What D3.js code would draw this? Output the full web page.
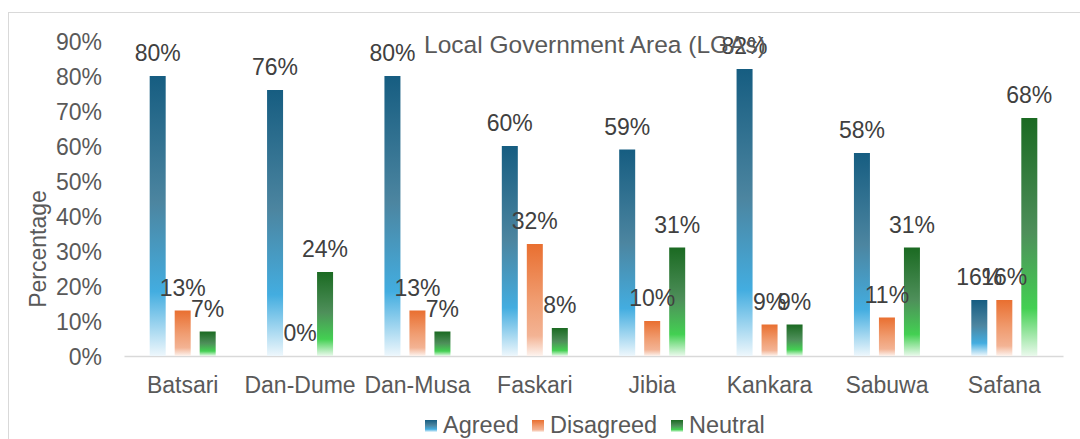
<!DOCTYPE html>
<html><head><meta charset="utf-8">
<script src="https://cdn.jsdelivr.net/npm/d3@7"></script>
<style>body{margin:0;background:#fff;}svg{display:block;font-family:"Liberation Sans",Arial,sans-serif;}</style>
</head><body>
<svg id="c" width="1080" height="439"></svg>
<script>
const categories = ["Batsari","Dan-Dume","Dan-Musa","Faskari","Jibia","Kankara","Sabuwa","Safana"];
const seriesNames = ["Agreed","Disagreed","Neutral"];
const agreed = [0.80,0.76,0.80,0.60,0.59,0.82,0.58,0.16];
const disagreed = [0.13,0.00,0.13,0.32,0.10,0.09,0.11,0.16];
const neutral = [0.07,0.24,0.07,0.08,0.31,0.09,0.31,0.68];
const yTicks = [0,0.1,0.2,0.3,0.4,0.5,0.6,0.7,0.8,0.9];
const titleText = "Local Government Area (LGAs)";
const yTitle = "Percentage";

const values = [agreed, disagreed, neutral];
const gradStops = [
  [["0%","#165d81"],["45%","#4c85a0"],["77%","#43ade0"],["100%","#eef7fc"]],
  [["0%","#e96f30"],["50%","#f09c70"],["82%","#f3b394"],["100%","#fdf3ee"]],
  [["0%","#1b6a22"],["48%","#4e8f5a"],["80%","#43d052"],["100%","#eaf9ec"]]
];

const svg = d3.select("#c");
const defs = svg.append("defs");
gradStops.forEach((stops,i)=>{
  const g = defs.append("linearGradient").attr("id","g"+i).attr("x1",0).attr("y1",0).attr("x2",0).attr("y2",1);
  stops.forEach(s=>g.append("stop").attr("offset",s[0]).attr("stop-color",s[1]));
});

svg.append("rect").attr("x",8.5).attr("y",12.5).attr("width",1100).attr("height",500)
  .attr("fill","none").attr("stroke","#d9d9d9").attr("stroke-width",1);

const x = d3.scaleBand().domain(categories).range([124,1063]).padding(0);
const xi = d3.scaleBand().domain(seriesNames).range([-33,33]).paddingInner(0.36).paddingOuter(0);
const y = d3.scaleLinear().domain([0,0.9]).range([356,41]);

// y tick labels
const yAxis = d3.axisLeft(y).tickValues(yTicks).tickFormat(d3.format(".0%")).tickSize(0).tickPadding(0);
const ya = svg.append("g").attr("transform","translate(102,0)").call(yAxis);
ya.select(".domain").remove();
ya.selectAll("text").attr("font-size",23).attr("fill","#595959").attr("font-family","Liberation Sans, Arial, sans-serif").attr("dy","0.35em");

// x axis
const xAxis = d3.axisBottom(x).tickSize(0).tickPadding(0);
const xa = svg.append("g").attr("transform","translate(0,356)").call(xAxis);
xa.select(".domain").attr("stroke","#d9d9d9").attr("stroke-width",1.5);
xa.selectAll("text").attr("font-size",23).attr("fill","#595959").attr("font-family","Liberation Sans, Arial, sans-serif").attr("dy",null).attr("y",37);

// bars
seriesNames.forEach((s,si)=>{
  const g = svg.append("g");
  g.selectAll("rect").data(categories).join("rect")
    .attr("x",c=>x(c)+x.bandwidth()/2+xi(s))
    .attr("width",xi.bandwidth())
    .attr("y",(c,i)=>y(values[si][i]))
    .attr("height",(c,i)=>y(0)-y(values[si][i]))
    .attr("fill","url(#g"+si+")");
});
// labels
seriesNames.forEach((s,si)=>{
  svg.append("g").selectAll("text").data(categories).join("text")
    .attr("x",c=>x(c)+x.bandwidth()/2+xi(s)+xi.bandwidth()/2)
    .attr("y",(c,i)=>y(values[si][i])-15)
    .attr("text-anchor","middle").attr("font-size",23).attr("fill","#404040")
    .text((c,i)=>d3.format(".0%")(values[si][i]));
});

// title
svg.append("text").attr("x",595).attr("y",53).attr("text-anchor","middle")
  .attr("font-size",24.5).attr("fill","#595959").text(titleText);
// y title
svg.append("text").attr("transform","translate(46,249) rotate(-90)").attr("text-anchor","middle")
  .attr("font-size",23).attr("fill","#595959").text(yTitle);

// legend
const legX = [425,532,671];
const leg = svg.append("g");
seriesNames.forEach((s,i)=>{
  leg.append("rect").attr("x",legX[i]).attr("y",420).attr("width",12).attr("height",12).attr("fill","url(#g"+i+")");
  leg.append("text").attr("x",legX[i]+18).attr("y",433).attr("font-size",23.5).attr("fill","#595959").text(s);
});
</script>
</body></html>
